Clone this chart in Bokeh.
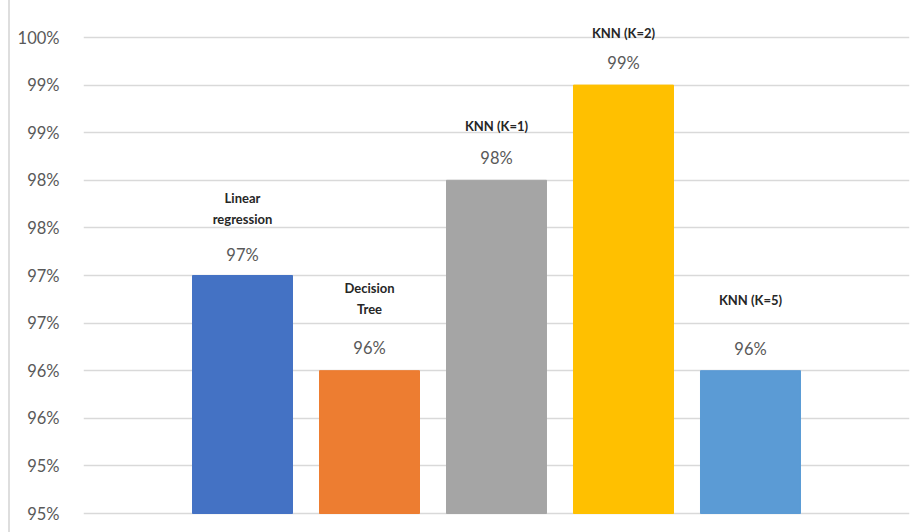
from bokeh.plotting import figure
from bokeh.models import ColumnDataSource, Range1d, FixedTicker
from bokeh.embed import file_html
from bokeh.resources import INLINE
from bokeh.core.properties import value

# Model accuracy scores (%)
models = ["Linear\nregression", "Decision\nTree", "KNN (K=1)", "KNN (K=2)", "KNN (K=5)"]
accuracy = [97.0, 96.0, 98.0, 99.0, 96.0]
value_labels = ["97%", "96%", "98%", "99%", "96%"]

# Value axis
tick_values = [94.5, 95.0, 95.5, 96.0, 96.5, 97.0, 97.5, 98.0, 98.5, 99.0, 99.5]
tick_labels = ["95%", "95%", "96%", "96%", "97%", "97%", "98%", "98%", "99%", "99%", "100%"]
axis_min = 94.5

# Styling
bar_colors = ["#4472C4", "#ED7D31", "#A5A5A5", "#FFC000", "#5B9BD5"]
value_label_lift = [21, 23, 22, 22, 22]      # px above bar top
name_label_lift = [67, 72, 54, 52, 71]       # px above bar top

H = 532
offset_x = 8            # chart area starts a little in from the page edge
W = 920 - offset_x - 2
left, right = 83 - offset_x - 2, 11
px_per_unit = (513 - 37) / (tick_values[-1] - tick_values[0])
y_top = tick_values[-1] + 37 / px_per_unit
y_bot = tick_values[0] - (H - 513) / px_per_unit

pos = list(range(len(models)))
src = ColumnDataSource(dict(
    x=pos, top=accuracy, color=bar_colors, vlab=value_labels, name=models,
    vo=[-v for v in value_label_lift], no=[-v for v in name_label_lift],
))

p = figure(width=W, height=H, output_backend="svg", toolbar_location=None,
           x_range=Range1d(-1.252, 5.252), y_range=Range1d(y_bot, y_top),
           min_border_left=left, min_border_right=right,
           min_border_top=0, min_border_bottom=0)
p.styles = {"margin-left": f"{offset_x}px", "border-left": "2px solid #dedede"}
p.outline_line_color = None
p.background_fill_color = "white"
p.border_fill_color = "white"

p.vbar(x="x", top="top", bottom=axis_min, width=100 / 127, color="color",
       line_color="color", source=src)

p.text(x="x", y="top", text="vlab", source=src, y_offset="vo",
       text_align="center", text_baseline="middle",
       text_font=value("Lato"), text_font_size="16.5px", text_color="#595959")
p.text(x="x", y="top", text="name", source=src, y_offset="no",
       text_align="center", text_baseline="middle", text_line_height=1.35,
       text_font=value("Lato"), text_font_size="13px", text_font_style="bold",
       text_color="#262626")

p.xaxis.visible = False
p.xgrid.visible = False
p.yaxis.ticker = FixedTicker(ticks=tick_values)
p.yaxis.major_label_overrides = {t: l for t, l in zip(tick_values, tick_labels)}
p.yaxis.axis_line_color = None
p.yaxis.major_tick_line_color = None
p.yaxis.minor_tick_line_color = None
p.yaxis.major_label_standoff = 18
p.yaxis.major_label_text_font = "Lato"
p.yaxis.major_label_text_font_size = "16.5px"
p.yaxis.major_label_text_color = "#595959"
p.ygrid.grid_line_color = "#d9d9d9"
p.ygrid.grid_line_width = 1.3

open("out.html", "w").write(file_html(p, INLINE))
